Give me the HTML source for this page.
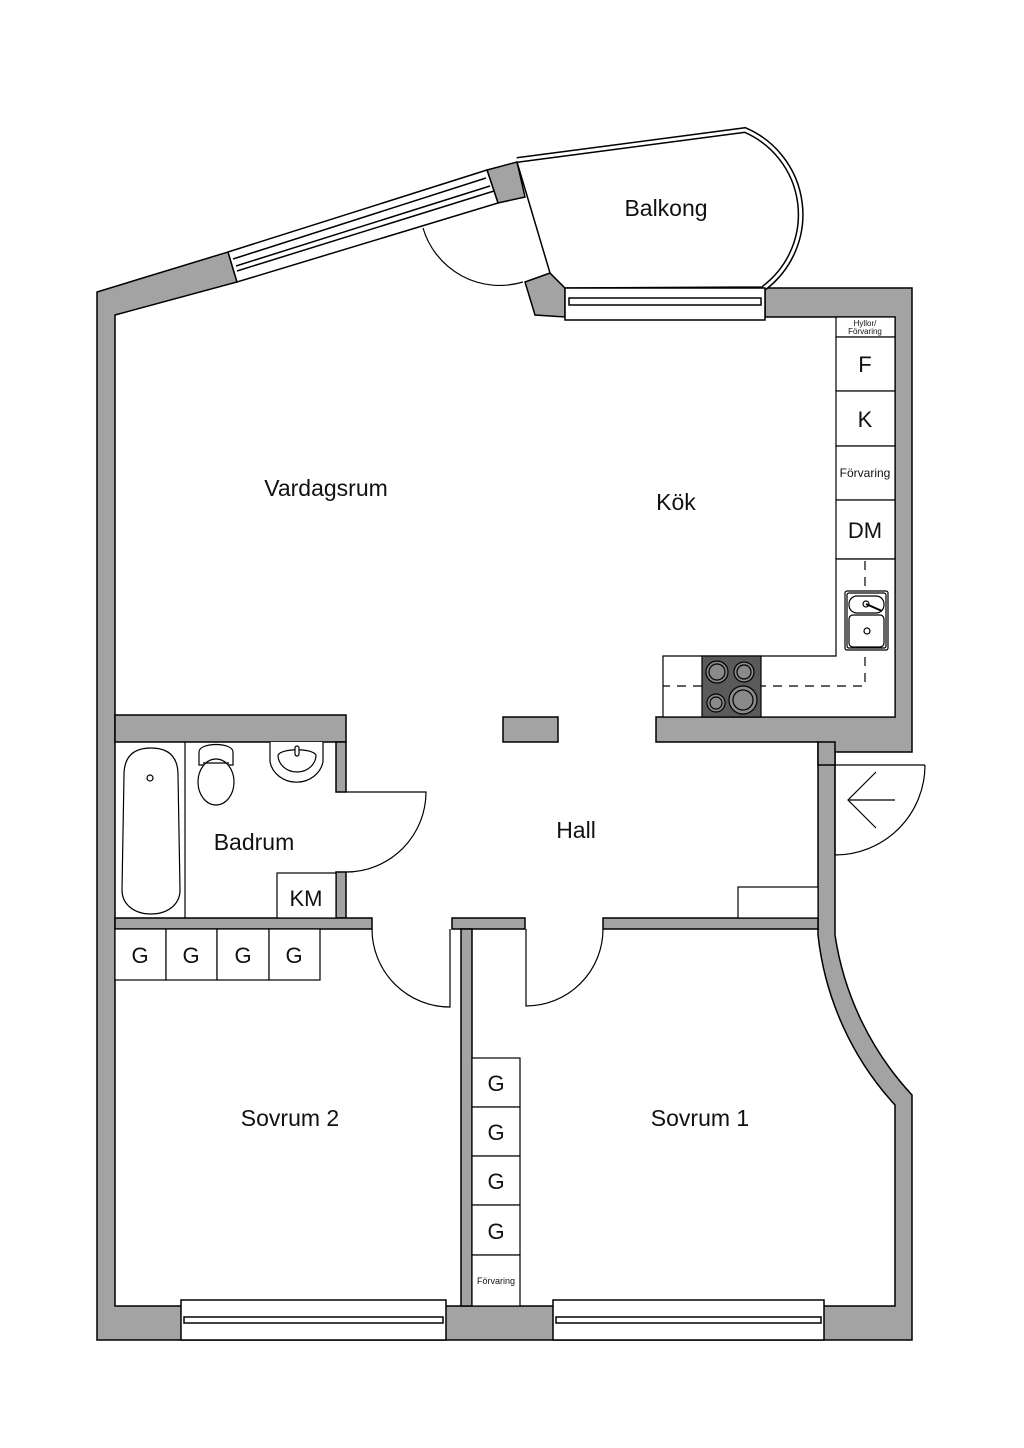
<!DOCTYPE html>
<html><head><meta charset="utf-8"><style>
html,body{margin:0;padding:0;background:#fff;}
svg{display:block;}
text{font-family:"Liberation Sans",sans-serif;fill:#111;}
</style></head><body>
<svg width="1024" height="1448" viewBox="0 0 1024 1448" xmlns="http://www.w3.org/2000/svg">
<g stroke="#000" stroke-width="1.5" stroke-linejoin="miter">
<path d="M97,292 L228,252 L237,282 L115,315 L115,1306 L895,1306 L895,1105 A300,300 0 0 1 818,935 L818,742 L656,742 L656,717 L895,717 L895,317 L765,317 L765,288 L912,288 L912,752 L835,752 L835,935 A300,300 0 0 0 912,1095 L912,1340 L97,1340 Z" fill="#a3a3a3"/>
<polygon points="487,170 517,162 525,197 498,203" fill="#a3a3a3"/>
<polygon points="525,282 550,273 565,288 565,317 535,315" fill="#a3a3a3"/>
<path d="M517,162 L745,132 A90,90 0 0 1 762,287 L565,288 L550,273 Z" fill="#fff"/>
<path d="M517,160 L745,130 A92,92 0 0 1 764,288" fill="none" stroke-width="6"/>
<path d="M517,160 L745,130 A92,92 0 0 1 764,288" fill="none" stroke="#fff" stroke-width="3"/>
<polygon points="228,252 487,170 498,203 237,282" fill="#fff"/>
<line x1="233" y1="259" x2="486" y2="178"/>
<line x1="236" y1="266" x2="490" y2="186"/>
<line x1="237" y1="271" x2="494" y2="191"/>
<rect x="565" y="288" width="200" height="32" fill="#fff"/>
<rect x="569" y="298" width="192" height="7" fill="#fff"/>
<path d="M423,228 A80,80 0 0 0 523,282" fill="none" stroke-width="1.2"/>
<rect x="115" y="715" width="231" height="27" fill="#a3a3a3"/>
<rect x="336" y="742" width="10" height="50" fill="#a3a3a3"/>
<rect x="336" y="872" width="10" height="46" fill="#a3a3a3"/>
<rect x="115" y="918" width="257" height="11" fill="#a3a3a3"/>
<rect x="452" y="918" width="73" height="11" fill="#a3a3a3"/>
<rect x="603" y="918" width="215" height="11" fill="#a3a3a3"/>
<rect x="461" y="929" width="11" height="377" fill="#a3a3a3"/>
<rect x="503" y="717" width="55" height="25" fill="#a3a3a3"/>
<polygon points="818,742 835,742 835,765 818,765" fill="#a3a3a3"/>
<rect x="181" y="1300" width="265" height="40" fill="#fff"/>
<rect x="184" y="1317" width="259" height="6" fill="#fff"/>
<rect x="553" y="1300" width="271" height="40" fill="#fff"/>
<rect x="556" y="1317" width="265" height="6" fill="#fff"/>
<g fill="none" stroke-width="1.2">
<path d="M346,792 L426,792 A80,80 0 0 1 346,872"/>
<path d="M372,929 A78,78 0 0 0 450,1007 L450,929"/>
<path d="M603,929 A77,77 0 0 1 526,1006 L526,929"/>
<path d="M835,765 L835,855 M925,765 A90,90 0 0 1 835,855 L835,765 L925,765"/>
<path d="M895,800 L848,800 M876,772 L848,800 L876,828"/>
</g>
<rect x="738" y="887" width="80" height="31" fill="#fff" stroke-width="1.2"/>
<g fill="#fff" stroke-width="1.2">
<line x1="185" y1="742" x2="185" y2="918"/>
<path d="M151,748 C168,748 178,756 178,775 L180,890 C180,905 167,914 151,914 C135,914 122,905 122,890 L124,775 C124,756 134,748 151,748 Z"/>
<circle cx="150" cy="778" r="3"/>
<path d="M199,765 L199,752 C199,742 233,742 233,752 L233,765 Z"/>
<ellipse cx="216" cy="782" rx="18" ry="23"/>
<path d="M203,763 L229,763"/>
<path d="M270,742 L270,762 A27,25 0 0 0 323,762 L323,742"/>
<path d="M278,755 A19,17 0 0 0 316,755 C312,748 282,748 278,755 Z"/>
<rect x="295" y="746" width="4" height="10" rx="2"/>
<rect x="277" y="873" width="59" height="45"/>
</g>
<g fill="#fff" stroke-width="1.2">
<rect x="115" y="929" width="51" height="51"/><rect x="166" y="929" width="51" height="51"/>
<rect x="217" y="929" width="52" height="51"/><rect x="269" y="929" width="51" height="51"/>
<rect x="472" y="1058" width="48" height="49"/><rect x="472" y="1107" width="48" height="49"/>
<rect x="472" y="1156" width="48" height="49"/><rect x="472" y="1205" width="48" height="50"/>
<rect x="472" y="1255" width="48" height="51"/>
</g>
<g fill="#fff" stroke-width="1.2">
<rect x="836" y="317" width="59" height="20"/>
<rect x="836" y="337" width="59" height="54"/>
<rect x="836" y="391" width="59" height="55"/>
<rect x="836" y="446" width="59" height="54"/>
<rect x="836" y="500" width="59" height="59"/>
<path d="M836,559 L895,559 L895,717 L663,717 L663,656 L836,656 Z"/>
</g>
<path d="M865,561 L865,686 L663,686" fill="none" stroke-width="1.2" stroke-dasharray="9,7"/>
<rect x="702" y="656" width="59" height="61" fill="#5a5a5a" stroke-width="1.2"/>
<g stroke-width="1.2" fill="#8a8a8a">
<circle cx="717" cy="672" r="11"/><circle cx="717" cy="672" r="8"/>
<circle cx="744" cy="672" r="10"/><circle cx="744" cy="672" r="7"/>
<circle cx="716" cy="703" r="9"/><circle cx="716" cy="703" r="6"/>
<circle cx="743" cy="700" r="14"/><circle cx="743" cy="700" r="10"/>
</g>
<g fill="#fff" stroke-width="1.2">
<rect x="845" y="591" width="43" height="59" rx="2"/>
<rect x="847" y="593" width="39" height="55" rx="2"/>
<rect x="849" y="596" width="35" height="17" rx="8"/>
<rect x="849" y="615" width="35" height="32" rx="4"/>
<circle cx="866" cy="604" r="3"/>
<circle cx="867" cy="631" r="3"/>
<line x1="866" y1="604" x2="882" y2="611" stroke-width="2"/>
</g>
</g>
<text x="666" y="216" font-size="23" text-anchor="middle">Balkong</text>
<text x="326" y="496" font-size="23" text-anchor="middle">Vardagsrum</text>
<text x="676" y="510" font-size="23" text-anchor="middle">Kök</text>
<text x="254" y="850" font-size="23" text-anchor="middle">Badrum</text>
<text x="576" y="838" font-size="23" text-anchor="middle">Hall</text>
<text x="290" y="1126" font-size="23" text-anchor="middle">Sovrum 2</text>
<text x="700" y="1126" font-size="23" text-anchor="middle">Sovrum 1</text>
<text x="306" y="906" font-size="22" text-anchor="middle">KM</text>
<g font-size="22" text-anchor="middle">
<text x="140" y="963">G</text><text x="191" y="963">G</text><text x="243" y="963">G</text><text x="294" y="963">G</text>
<text x="496" y="1091">G</text><text x="496" y="1140">G</text><text x="496" y="1189">G</text><text x="496" y="1239">G</text>
<text x="865" y="372">F</text><text x="865" y="427">K</text><text x="865" y="538">DM</text>
</g>
<text x="496" y="1284" font-size="9" text-anchor="middle">Förvaring</text>
<text x="865" y="477" font-size="12" text-anchor="middle">Förvaring</text>
<text x="865" y="326" font-size="8" text-anchor="middle">Hyllor/</text>
<text x="865" y="334" font-size="8" text-anchor="middle">Förvaring</text>
</svg>
</body></html>
